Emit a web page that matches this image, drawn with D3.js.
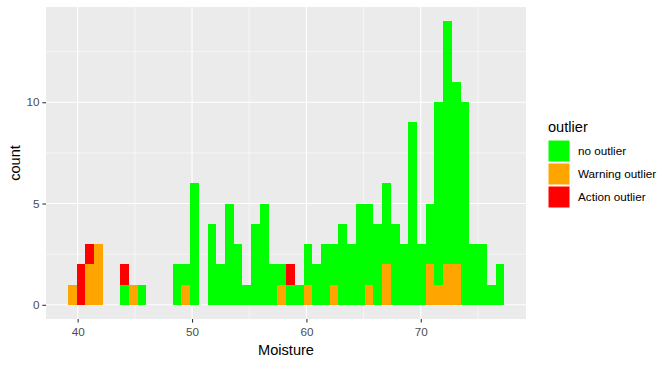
<!DOCTYPE html>
<html>
<head>
<meta charset="utf-8">
<script src="https://cdnjs.cloudflare.com/ajax/libs/d3/7.8.5/d3.min.js"></script>
<style>
  body { margin: 0; background: #fff; }
  text { font-family: "Liberation Sans", Arial, sans-serif; }
</style>
</head>
<body>
<svg width="672" height="365"></svg>
<script>
// histogram bins (left edge of first bin and bin width, in Moisture units)
const binStart = 39.15
const binWidth = 0.763

// counts per bin, one array per outlier class
const noOutlier = [0,0,0,0,0,0,1,0,1,0, 0,0,2,1,6,0,4,2,5,3, 1,4,5,2,1,1,1,2,2,3, 2,4,3,5,4,4,4,4,3,9, 3,3,9,12,9,10,3,3,1,2]
const warningOutlier = [1,0,2,3,0,0,0,1,0,0, 0,0,0,1,0,0,0,0,0,0, 0,0,0,0,1,0,0,1,0,0, 1,0,0,0,1,0,2,0,0,0, 0,2,1,2,2,0,0,0,0,0]
const actionOutlier = [0,2,1,0,0,0,1,0,0,0, 0,0,0,0,0,0,0,0,0,0, 0,0,0,0,0,1,0,0,0,0, 0,0,0,0,0,0,0,0,0,0, 0,0,0,0,0,0,0,0,0,0]

const legendLabels = ['no outlier', 'Warning outlier', 'Action outlier']
const colors = { 'no outlier': '#00FF00', 'Warning outlier': '#FFA500', 'Action outlier': '#FF0000' }
const stackOrder = ['Warning outlier', 'no outlier', 'Action outlier']

const xTicks = [40, 50, 60, 70]
const xMinor = [45, 55, 65, 75]
const yTicks = [0, 5, 10]
const yMinor = [2.5, 7.5, 12.5]

const panel = { left: 46, right: 526, top: 7, bottom: 319 }
const svg = d3.select('svg')

const rows = noOutlier.map((_, i) => ({
  x0: binStart + i * binWidth,
  x1: binStart + (i + 1) * binWidth,
  'no outlier': noOutlier[i],
  'Warning outlier': warningOutlier[i],
  'Action outlier': actionOutlier[i]
}))

const x = d3.scaleLinear().domain([37.23, 79.2]).range([panel.left, panel.right])
const y = d3.scaleLinear().domain([-0.7, 14.7]).range([panel.bottom, panel.top])

// panel background
svg.append('rect')
  .attr('x', panel.left).attr('y', panel.top)
  .attr('width', panel.right - panel.left).attr('height', panel.bottom - panel.top)
  .attr('fill', '#EBEBEB')

const grid = svg.append('g')
grid.selectAll('.ymin').data(yMinor).enter().append('line')
  .attr('x1', panel.left).attr('x2', panel.right)
  .attr('y1', d => y(d)).attr('y2', d => y(d))
  .attr('stroke', '#fff').attr('stroke-width', 0.55)
grid.selectAll('.xmin').data(xMinor).enter().append('line')
  .attr('y1', panel.top).attr('y2', panel.bottom)
  .attr('x1', d => x(d)).attr('x2', d => x(d))
  .attr('stroke', '#fff').attr('stroke-width', 0.55)
grid.selectAll('.ymaj').data(yTicks).enter().append('line')
  .attr('x1', panel.left).attr('x2', panel.right)
  .attr('y1', d => y(d)).attr('y2', d => y(d))
  .attr('stroke', '#fff').attr('stroke-width', 1.1)
grid.selectAll('.xmaj').data(xTicks).enter().append('line')
  .attr('y1', panel.top).attr('y2', panel.bottom)
  .attr('x1', d => x(d)).attr('x2', d => x(d))
  .attr('stroke', '#fff').attr('stroke-width', 1.1)

// stacked bars
const series = d3.stack().keys(stackOrder)(rows)
svg.append('g').selectAll('g').data(series).enter().append('g')
  .attr('fill', s => colors[s.key])
  .selectAll('rect').data(s => s.filter(d => d[1] > d[0])).enter().append('rect')
  .attr('x', d => x(d.data.x0))
  .attr('width', d => x(d.data.x1) - x(d.data.x0))
  .attr('y', d => y(d[1]))
  .attr('height', d => y(d[0]) - y(d[1]))
  .attr('shape-rendering', 'crispEdges')

// axes
const xAxis = svg.append('g').attr('transform', `translate(0,${panel.bottom})`)
  .call(d3.axisBottom(x).tickValues(xTicks).tickSize(3.6).tickPadding(3))
const yAxis = svg.append('g').attr('transform', `translate(${panel.left},0)`)
  .call(d3.axisLeft(y).tickValues(yTicks).tickSize(3.6).tickPadding(3))
;[xAxis, yAxis].forEach(a => {
  a.select('.domain').remove()
  a.selectAll('line').attr('stroke', '#333').attr('stroke-width', 1.1)
  a.selectAll('text').attr('fill', '#4D4D4D').style('font-size', '11.7px')
})
xAxis.selectAll('text').attr('dy', '0.9em')

svg.append('text').attr('x', (panel.left + panel.right) / 2).attr('y', 355)
  .attr('text-anchor', 'middle').style('font-size', '14.6px').attr('fill', '#000').text('Moisture')
svg.append('text').attr('transform', `translate(20,${(panel.top + panel.bottom) / 2}) rotate(-90)`)
  .attr('text-anchor', 'middle').style('font-size', '14.6px').attr('fill', '#000').text('count')

// legend
const legend = svg.append('g').attr('transform', 'translate(548,0)')
legend.append('text').attr('x', 0).attr('y', 132).style('font-size', '14.6px').text('outlier')
const keys = legend.selectAll('.key').data(legendLabels).enter().append('g')
  .attr('transform', (d, i) => `translate(0,${140 + i * 23})`)
keys.append('rect').attr('width', 22).attr('height', 22)
  .attr('fill', d => colors[d]).attr('stroke', '#fff').attr('stroke-width', 1)
keys.append('text').attr('x', 30).attr('y', 11).attr('dy', '0.35em')
  .style('font-size', '11.7px').attr('fill', '#000').text(d => d)
</script>
</body>
</html>
